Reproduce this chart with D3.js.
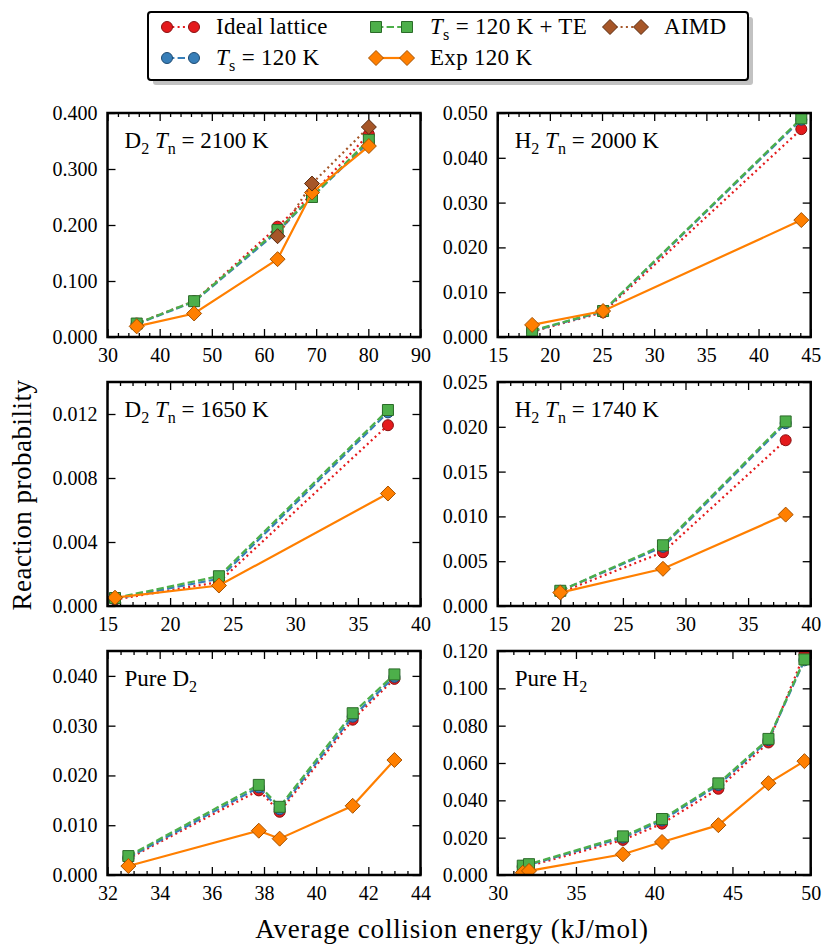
<!DOCTYPE html>
<html>
<head>
<meta charset="utf-8">
<script src="https://cdn.jsdelivr.net/npm/d3@7"></script>
<style>
  body { margin: 0; background: #fff; }
  svg { display: block; }
  text { font-family: "Liberation Serif", "DejaVu Serif", serif; fill: #000; }
</style>
</head>
<body>
<svg id="chart" width="823" height="945"></svg>
<script>
// ---- Reaction probability vs. average collision energy (kJ/mol) ----

// D2, nozzle temperature 2100 K
const d2Hot_E      = [35.6, 46.6, 62.6, 69.2, 80.1];
const d2Hot_ideal  = [0.024, 0.064, 0.197, 0.255, 0.362];
const d2Hot_ts     = [0.023, 0.063, 0.188, 0.250, 0.348];
const d2Hot_te     = [0.024, 0.064, 0.191, 0.250, 0.352];
const d2Hot_exp    = [0.019, 0.042, 0.139, 0.258, 0.341];
const d2Hot_aimdE  = [62.6, 69.2, 80.1];
const d2Hot_aimd   = [0.180, 0.274, 0.375];

// H2, nozzle temperature 2000 K
const h2Hot_E     = [18.3, 25.1, 44.1];
const h2Hot_ideal = [0.0012, 0.0055, 0.0464];
const h2Hot_ts    = [0.0013, 0.0057, 0.0485];
const h2Hot_te    = [0.0014, 0.0058, 0.0488];
const h2Hot_exp   = [0.0027, 0.0058, 0.0261];

// D2, nozzle temperature 1650 K
const d2Warm_E     = [15.6, 23.9, 37.4];
const d2Warm_ideal = [0.0004, 0.0015, 0.0113];
const d2Warm_ts    = [0.00045, 0.0017, 0.0121];
const d2Warm_te    = [0.0005, 0.00186, 0.01225];
const d2Warm_exp   = [0.00052, 0.00128, 0.00703];

// H2, nozzle temperature 1740 K
const h2Warm_E     = [20.0, 28.2, 38.0];
const h2Warm_ideal = [0.0015, 0.0060, 0.0185];
const h2Warm_ts    = [0.0017, 0.0066, 0.0204];
const h2Warm_te    = [0.0017, 0.00678, 0.0206];
const h2Warm_exp   = [0.0015, 0.00415, 0.0102];

// Pure D2 beams
const d2Pure_E     = [32.8, 37.8, 38.6, 41.4, 43.0];
const d2Pure_ideal = [0.0033, 0.0170, 0.0127, 0.0312, 0.0394];
const d2Pure_ts    = [0.0035, 0.0176, 0.0132, 0.0318, 0.0398];
const d2Pure_te    = [0.0038, 0.0181, 0.0137, 0.0325, 0.0403];
const d2Pure_exp   = [0.0018, 0.0089, 0.0073, 0.0139, 0.0231];

// Pure H2 beams
const h2Pure_E     = [31.6, 32.0, 38.0, 40.5, 44.1, 47.3, 49.6];
const h2Pure_ideal = [0.0042, 0.0048, 0.0188, 0.0275, 0.0462, 0.0710, 0.1185];
const h2Pure_ts    = [0.0048, 0.0055, 0.0200, 0.0292, 0.0482, 0.0722, 0.1150];
const h2Pure_te    = [0.0050, 0.0058, 0.0207, 0.0300, 0.0491, 0.0729, 0.1155];
const h2Pure_exp   = [0.0012, 0.0022, 0.0111, 0.0177, 0.0267, 0.0492, 0.0610];

// Axis limits and tick steps per panel
const xLimits = [[30, 90], [15, 45], [15, 40], [15, 40], [32, 44], [30, 50]];
const xMajorSteps = [10, 5, 5, 5, 2, 5];
const xMinorSteps = [2, 1, 1, 1, 0.5, 1];
const yLimits = [[0, 0.4], [0, 0.05], [0, 0.014], [0, 0.025], [0, 0.045], [0, 0.12]];
const yMajorSteps = [0.1, 0.01, 0.004, 0.005, 0.01, 0.02];

// Panel titles: [text, style] pieces (style: "", "sub", "it")
const panelTitles = [
  [["D", ""], ["2", "sub"], [" ", ""], ["T", "it"], ["n", "sub"], [" = 2100 K", ""]],
  [["H", ""], ["2", "sub"], [" ", ""], ["T", "it"], ["n", "sub"], [" = 2000 K", ""]],
  [["D", ""], ["2", "sub"], [" ", ""], ["T", "it"], ["n", "sub"], [" = 1650 K", ""]],
  [["H", ""], ["2", "sub"], [" ", ""], ["T", "it"], ["n", "sub"], [" = 1740 K", ""]],
  [["Pure D", ""], ["2", "sub"]],
  [["Pure H", ""], ["2", "sub"]]
];

// Series appearance
const styles = {
  ideal: { fill: "#e41a1c", edge: "#8a1112", dash: "2,3.3", marker: "circle" },
  ts:    { fill: "#377eb8", edge: "#1d4a72", dash: "7.4,3.2", marker: "circle" },
  te:    { fill: "#4daf4a", edge: "#2b6b29", dash: "7.4,3.2", marker: "square" },
  exp:   { fill: "#ff7f00", edge: "#a65200", dash: null, marker: "diamond" },
  aimd:  { fill: "#a65628", edge: "#5a2b10", dash: "2,3.3", marker: "diamond" }
};

const legendEntries = [
  { key: "ideal", label: [["Ideal lattice", ""]] },
  { key: "ts",    label: [["T", "it"], ["s", "sub"], [" = 120 K", ""]] },
  { key: "te",    label: [["T", "it"], ["s", "sub"], [" = 120 K + TE", ""]] },
  { key: "exp",   label: [["Exp 120 K", ""]] },
  { key: "aimd",  label: [["AIMD", ""]] }
];

function zipXY(xs, ys) { return xs.map((v, i) => [v, ys[i]]); }

const panels = [
  { series: [["ideal", d2Hot_E, d2Hot_ideal], ["ts", d2Hot_E, d2Hot_ts], ["te", d2Hot_E, d2Hot_te],
             ["exp", d2Hot_E, d2Hot_exp], ["aimd", d2Hot_aimdE, d2Hot_aimd]] },
  { series: [["ideal", h2Hot_E, h2Hot_ideal], ["ts", h2Hot_E, h2Hot_ts], ["te", h2Hot_E, h2Hot_te],
             ["exp", h2Hot_E, h2Hot_exp]] },
  { series: [["ideal", d2Warm_E, d2Warm_ideal], ["ts", d2Warm_E, d2Warm_ts], ["te", d2Warm_E, d2Warm_te],
             ["exp", d2Warm_E, d2Warm_exp]] },
  { series: [["ideal", h2Warm_E, h2Warm_ideal], ["ts", h2Warm_E, h2Warm_ts], ["te", h2Warm_E, h2Warm_te],
             ["exp", h2Warm_E, h2Warm_exp]] },
  { series: [["ideal", d2Pure_E, d2Pure_ideal], ["ts", d2Pure_E, d2Pure_ts], ["te", d2Pure_E, d2Pure_te],
             ["exp", d2Pure_E, d2Pure_exp]] },
  { series: [["ideal", h2Pure_E, h2Pure_ideal], ["ts", h2Pure_E, h2Pure_ts], ["te", h2Pure_E, h2Pure_te],
             ["exp", h2Pure_E, h2Pure_exp]] }
];

const svg = d3.select("#chart");
const colX = [107.5, 497.7];
const rowY = [113, 382, 651];
const W = 313, H = 224;

function markerPath(kind) {
  if (kind === "circle") return d3.symbol(d3.symbolCircle, Math.PI * 5.5 * 5.5)();
  if (kind === "square") return d3.symbol(d3.symbolSquare, 11 * 11)();
  return "M0,-7.5L7.5,0L0,7.5L-7.5,0Z";
}

// Text with italic and subscript pieces
function richText(sel, pieces, size) {
  let shift = 0;
  pieces.forEach(([t, st]) => {
    const target = st === "sub" ? Math.round(size * 0.25) : 0;
    const ts = sel.append("tspan").text(t);
    if (target !== shift) ts.attr("dy", target - shift);
    shift = target;
    if (st === "sub") ts.attr("font-size", size * 0.7);
    if (st === "it") ts.attr("font-style", "italic");
  });
}

function range(a, b, s) {
  const out = [];
  const n = Math.round((b - a) / s);
  for (let k = 0; k <= n; k++) out.push(+(a + k * s).toFixed(6));
  return out.filter(v => v <= b + 1e-9);
}

panels.forEach((p, i) => {
  const col = i % 2, row = Math.floor(i / 2);
  const g = svg.append("g").attr("transform", `translate(${colX[col]},${rowY[row]})`);
  const x = d3.scaleLinear().domain(xLimits[i]).range([0, W]);
  const y = d3.scaleLinear().domain(yLimits[i]).range([H, 0]);

  const clipId = "clip" + i;
  g.append("clipPath").attr("id", clipId)
    .append("rect").attr("width", W).attr("height", H);

  const xMaj = range(xLimits[i][0], xLimits[i][1], xMajorSteps[i]);
  const xMin = range(xLimits[i][0], xLimits[i][1], xMinorSteps[i]).filter(v => !xMaj.some(m => Math.abs(m - v) < 1e-9));
  const yMaj = range(yLimits[i][0], yLimits[i][1], yMajorSteps[i]);

  const tickStyle = a => {
    a.attr("font-family", null);
    a.select(".domain").remove();
    a.selectAll(".tick line").attr("stroke", "#000").attr("stroke-width", 1.3);
    a.selectAll(".tick text").attr("font-size", 20);
  };

  // bottom and top axes
  g.append("g").attr("transform", `translate(0,${H})`)
    .call(d3.axisBottom(x).tickValues(xMaj).tickSize(-8).tickPadding(11).tickFormat(d3.format("d")))
    .call(tickStyle);
  g.append("g").attr("transform", `translate(0,${H})`)
    .call(d3.axisBottom(x).tickValues(xMin).tickSize(-4).tickFormat(""))
    .call(tickStyle);
  g.append("g")
    .call(d3.axisTop(x).tickValues(xMaj).tickSize(-8).tickFormat(""))
    .call(tickStyle);
  g.append("g")
    .call(d3.axisTop(x).tickValues(xMin).tickSize(-4).tickFormat(""))
    .call(tickStyle);
  // left and right axes
  g.append("g")
    .call(d3.axisLeft(y).tickValues(yMaj).tickSize(-8).tickPadding(10).tickFormat(d3.format(".3f")))
    .call(tickStyle);
  g.append("g").attr("transform", `translate(${W},0)`)
    .call(d3.axisRight(y).tickValues(yMaj).tickSize(-8).tickFormat(""))
    .call(tickStyle);

  // series
  const plot = g.append("g").attr("clip-path", `url(#${clipId})`);
  const line = d3.line().x(d => x(d[0])).y(d => y(d[1]));
  p.series.forEach(([key, xs, ys]) => {
    const st = styles[key];
    const pts = zipXY(xs, ys);
    plot.append("path").datum(pts)
      .attr("d", line)
      .attr("fill", "none")
      .attr("stroke", st.fill)
      .attr("stroke-width", 2.2)
      .attr("stroke-dasharray", st.dash);
    plot.selectAll(null).data(pts).enter().append("path")
      .attr("d", markerPath(st.marker))
      .attr("transform", d => `translate(${x(d[0])},${y(d[1])})`)
      .attr("fill", st.fill)
      .attr("stroke", st.edge)
      .attr("stroke-width", 1);
  });

  // frame
  g.append("rect").attr("width", W).attr("height", H)
    .attr("fill", "none").attr("stroke", "#000").attr("stroke-width", 2.5);

  // panel title
  const t = g.append("text").attr("x", 17).attr("y", 35).attr("font-size", 23);
  richText(t, panelTitles[i], 23);
});

// axis titles
svg.append("text")
  .attr("transform", "translate(31,495) rotate(-90)")
  .attr("text-anchor", "middle")
  .attr("font-size", 27)
  .attr("letter-spacing", 0.5)
  .text("Reaction probability");
svg.append("text")
  .attr("x", 452).attr("y", 938)
  .attr("text-anchor", "middle")
  .attr("font-size", 27)
  .attr("letter-spacing", 0.8)
  .text("Average collision energy (kJ/mol)");

// legend
const lg = svg.append("g");
lg.append("rect").attr("x", 153).attr("y", 17).attr("width", 600).attr("height", 68)
  .attr("rx", 3).attr("fill", "#9a9a9a").attr("opacity", 0.6);
lg.append("rect").attr("x", 148).attr("y", 12).attr("width", 600).attr("height", 68)
  .attr("rx", 3).attr("fill", "#fff").attr("stroke", "#000").attr("stroke-width", 2);

const legendSlots = [
  { m: [167, 194], tx: 216, ty: 27 },
  { m: [167, 194], tx: 216, ty: 58 },
  { m: [376, 407], tx: 430, ty: 27 },
  { m: [376, 407], tx: 430, ty: 58 },
  { m: [610, 641], tx: 664, ty: 27 }
];
legendEntries.forEach((e, k) => {
  const s = legendSlots[k], st = styles[e.key];
  lg.append("line").attr("x1", s.m[0]).attr("x2", s.m[1]).attr("y1", s.ty).attr("y2", s.ty)
    .attr("stroke", st.fill).attr("stroke-width", 2.2).attr("stroke-dasharray", st.dash);
  s.m.forEach(mx => {
    lg.append("path").attr("d", markerPath(st.marker))
      .attr("transform", `translate(${mx},${s.ty})`)
      .attr("fill", st.fill).attr("stroke", st.edge).attr("stroke-width", 1);
  });
  const t = lg.append("text").attr("x", s.tx).attr("y", s.ty + 7).attr("font-size", 23)
    .attr("letter-spacing", 0.3);
  richText(t, e.label, 23);
});
</script>
</body>
</html>
